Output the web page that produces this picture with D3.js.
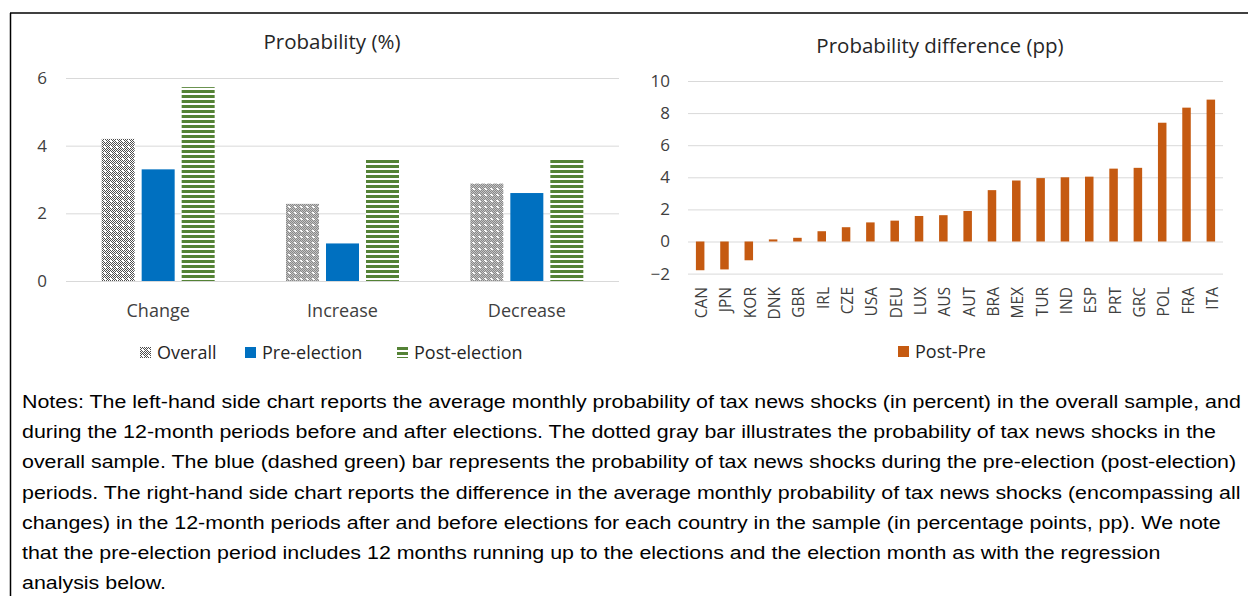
<!DOCTYPE html>
<html lang="en">
<head>
	<meta charset="UTF-8">
	<title>Tax news shocks around elections</title>
	<script type="text/javascript" src="https://cdn.jsdelivr.net/npm/d3@7"></script>
	<style>
		body { margin: 0; background: #fff; }
		.grid line { stroke: #d9d9d9; stroke-width: 1px; }
		.grid text { font-family: "Open Sans", sans-serif; font-size: 17px; fill: #404040; }
		.cat { font-family: "Open Sans", sans-serif; font-size: 18px; fill: #404040; }
		.ttl { font-family: "Open Sans", sans-serif; font-size: 20.5px; fill: #262626; }
		.leg { font-family: "Open Sans", sans-serif; font-size: 18px; fill: #262626; }
		.notes { font-family: "Liberation Sans", Arial, sans-serif; font-size: 18.5px; fill: #000; }
	</style>
</head>
<body>
<script type="text/javascript">
	// left chart
	var categories = ['Change', 'Increase', 'Decrease'];
	var seriesNames = ['Overall', 'Pre-election', 'Post-election'];
	var overall = [4.2, 2.28, 2.88];
	var preElection = [3.3, 1.11, 2.6];
	var postElection = [5.73, 3.59, 3.59];
	var leftTicks = [0, 2, 4, 6];

	// right chart
	var countries = ['CAN', 'JPN', 'KOR', 'DNK', 'GBR', 'IRL', 'CZE', 'USA', 'DEU', 'LUX', 'AUS',
		'AUT', 'BRA', 'MEX', 'TUR', 'IND', 'ESP', 'PRT', 'GRC', 'POL', 'FRA', 'ITA'];
	var postPre = [-1.79, -1.74, -1.17, 0.13, 0.23, 0.64, 0.89, 1.19, 1.3, 1.59, 1.64,
		1.9, 3.2, 3.8, 3.95, 4.0, 4.04, 4.54, 4.59, 7.4, 8.34, 8.84];
	var rightTicks = [-2, 0, 2, 4, 6, 8, 10];

	var notes = [
		'Notes: The left-hand side chart reports the average monthly probability of tax news shocks (in percent) in the overall sample, and',
		'during the 12-month periods before and after elections. The dotted gray bar illustrates the probability of tax news shocks in the',
		'overall sample. The blue (dashed green) bar represents the probability of tax news shocks during the pre-election (post-election)',
		'periods. The right-hand side chart reports the difference in the average monthly probability of tax news shocks (encompassing all',
		'changes) in the 12-month periods after and before elections for each country in the sample (in percentage points, pp). We note',
		'that the pre-election period includes 12 months running up to the elections and the election month as with the regression',
		'analysis below.'
	];

	window.onload = function () {

		var svg = d3.select('body').append('svg')
			.attr('width', 1248)
			.attr('height', 596);

		svg.append('rect').attr('width', 1248).attr('height', 596).attr('fill', '#fff');

		var defs = svg.append('defs');

		// dotted grey fill: checkerboard with lighter holes
		var dots = defs.append('pattern')
			.attr('id', 'dots')
			.attr('patternUnits', 'userSpaceOnUse')
			.attr('width', 6).attr('height', 6);
		dots.append('rect').attr('width', 6).attr('height', 6).attr('fill', '#fff');
		for (var i = 0; i < 6; i++) {
			for (var j = 0; j < 6; j++) {
				var hole = (i == 2 || i == 3) && (j == 2 || j == 3);
				if ((i + j) % 2 == 0 && !hole) {
					dots.append('rect')
						.attr('x', i).attr('y', j)
						.attr('width', 1).attr('height', 1)
						.attr('fill', '#4d4d4d');
				}
			}
		}

		// green horizontal dashes
		var stripes = defs.append('pattern')
			.attr('id', 'stripes')
			.attr('patternUnits', 'userSpaceOnUse')
			.attr('width', 6).attr('height', 5);
		stripes.append('rect').attr('width', 6).attr('height', 5).attr('fill', '#fff');
		stripes.append('rect').attr('width', 6).attr('height', 3).attr('fill', '#548235');

		var fills = ['url(#dots)', '#0070c0', 'url(#stripes)'];

		// frame
		svg.append('line').attr('x1', 10).attr('x2', 1248).attr('y1', 13).attr('y2', 13)
			.attr('stroke', '#000').attr('stroke-width', 1.5);
		svg.append('line').attr('x1', 10.5).attr('x2', 10.5).attr('y1', 13).attr('y2', 596)
			.attr('stroke', '#000').attr('stroke-width', 1.5);

		// ---------- left chart ----------
		var x0 = d3.scaleBand().domain(categories).range([66, 619]);
		var groupW = x0.bandwidth() * 0.613;
		var x1 = d3.scaleBand().domain(seriesNames)
			.range([(x0.bandwidth() - groupW) / 2, (x0.bandwidth() + groupW) / 2])
			.paddingInner(0.175);
		var yL = d3.scaleLinear().domain([0, 6]).range([281, 78]);

		var gL = svg.append('g')
			.attr('class', 'grid')
			.attr('transform', 'translate(66,0)')
			.call(d3.axisLeft(yL).tickValues(leftTicks).tickFormat(d3.format('d'))
				.tickSize(-553).tickPadding(19));
		gL.select('.domain').remove();

		var rows = categories.map(function (c, i) {
			return { cat: c, vals: [overall[i], preElection[i], postElection[i]] };
		});

		svg.selectAll('.grp')
			.data(rows)
			.enter().append('g')
			.attr('class', 'grp')
			.attr('transform', function (d) { return 'translate(' + x0(d.cat) + ',0)'; })
			.selectAll('rect')
			.data(function (d) { return d.vals; })
			.enter().append('rect')
			.attr('x', function (d, i) { return x1(seriesNames[i]); })
			.attr('width', x1.bandwidth())
			.attr('y', function (d) { return yL(d); })
			.attr('height', function (d) { return yL(0) - yL(d); })
			.attr('fill', function (d, i) { return fills[i]; });

		svg.selectAll('.cat')
			.data(categories)
			.enter().append('text')
			.attr('class', 'cat')
			.attr('x', function (d) { return x0(d) + x0.bandwidth() / 2; })
			.attr('y', 317)
			.attr('text-anchor', 'middle')
			.text(function (d) { return d; });

		svg.append('text').attr('class', 'ttl')
			.attr('x', 332).attr('y', 49).attr('text-anchor', 'middle')
			.text('Probability (%)');

		var legX = [140, 245, 397];
		var legL = svg.selectAll('.legL')
			.data(seriesNames)
			.enter().append('g')
			.attr('class', 'legL')
			.attr('transform', function (d, i) { return 'translate(' + legX[i] + ',347)'; });
		legL.append('rect').attr('width', 11).attr('height', 11)
			.attr('fill', function (d, i) { return fills[i]; });
		legL.append('text').attr('class', 'leg')
			.attr('x', 17).attr('y', 11.5)
			.text(function (d) { return d; });

		// ---------- right chart ----------
		var xR = d3.scaleBand().domain(countries).range([688, 1223])
			.paddingInner(0.65).paddingOuter(0.325);
		var yR = d3.scaleLinear().domain([-2, 10]).range([273.6, 81]);

		var gR = svg.append('g')
			.attr('class', 'grid')
			.attr('transform', 'translate(688,0)')
			.call(d3.axisLeft(yR).tickValues(rightTicks).tickSize(-535).tickPadding(18));
		gR.select('.domain').remove();

		svg.selectAll('.pp')
			.data(postPre)
			.enter().append('rect')
			.attr('class', 'pp')
			.attr('x', function (d, i) { return xR(countries[i]); })
			.attr('width', xR.bandwidth())
			.attr('y', function (d) { return yR(Math.max(0, d)); })
			.attr('height', function (d) { return Math.abs(yR(d) - yR(0)); })
			.attr('fill', '#c55a11');

		svg.selectAll('.ctry')
			.data(countries)
			.enter().append('text')
			.attr('class', 'cat')
			.style('font-size', '15.5px')
			.attr('text-anchor', 'end')
			.attr('transform', function (d) {
				return 'translate(' + (xR(d) + xR.bandwidth() / 2 + 7) + ',287) rotate(-90)';
			})
			.text(function (d) { return d; });

		svg.append('text').attr('class', 'ttl')
			.attr('x', 940).attr('y', 53).attr('text-anchor', 'middle')
			.text('Probability difference (pp)');

		svg.append('rect').attr('x', 898).attr('y', 346).attr('width', 11).attr('height', 11)
			.attr('fill', '#c55a11');
		svg.append('text').attr('class', 'leg')
			.attr('x', 915).attr('y', 358)
			.text('Post-Pre');

		// ---------- notes (source text is stretched horizontally) ----------
		svg.append('text').attr('class', 'notes')
			.attr('transform', 'translate(22,0) scale(1.157,1)')
			.selectAll('tspan')
			.data(notes)
			.enter().append('tspan')
			.attr('x', 0)
			.attr('y', function (d, i) { return 408 + i * 30.2; })
			.text(function (d) { return d; });
	};
</script>
</body>
</html>
